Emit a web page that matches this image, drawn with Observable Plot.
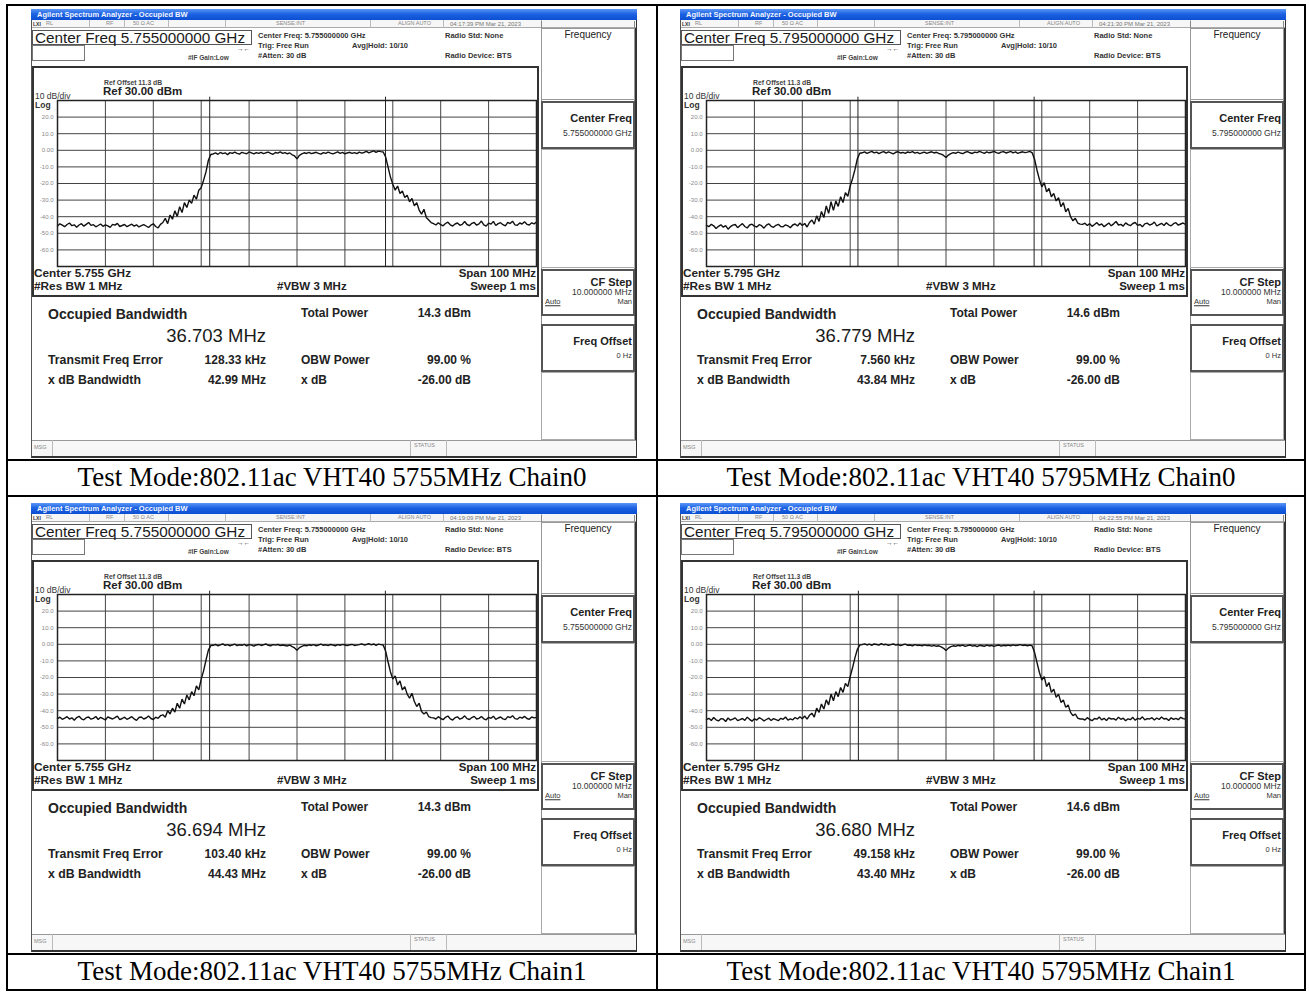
<!DOCTYPE html>
<html><head><meta charset="utf-8">
<script src="https://cdn.jsdelivr.net/npm/d3@7"></script>
<script src="https://cdn.jsdelivr.net/npm/@observablehq/plot@0.6"></script>
<style>
body{margin:0;background:#fff;}
#root{position:relative;width:1309px;height:992px;overflow:hidden;background:#fff;font-family:"Liberation Sans",Arial,sans-serif;}
.t{position:absolute;white-space:nowrap;line-height:1;}
.box{position:absolute;box-sizing:border-box;}
</style></head><body><div id="root"></div>
<script>
// ---------- data ----------
const captions = [
  "Test Mode:802.11ac VHT40 5755MHz Chain0",
  "Test Mode:802.11ac VHT40 5795MHz Chain0",
  "Test Mode:802.11ac VHT40 5755MHz Chain1",
  "Test Mode:802.11ac VHT40 5795MHz Chain1"
];
const centerFreqGHz = ["5.755000000","5.795000000","5.755000000","5.795000000"];
const centerShort = ["5.755","5.795","5.755","5.795"];
const timestamps = ["04:17:39 PM Mar 21, 2023","04:21:30 PM Mar 21, 2023","04:19:09 PM Mar 21, 2023","04:22:55 PM Mar 21, 2023"];
const obwMHz = [36.703, 36.779, 36.694, 36.680];
const totalPowerDbm = ["14.3 dBm","14.6 dBm","14.3 dBm","14.6 dBm"];
const freqErrorKHz = [128.33, 7.560, 103.40, 49.158];
const freqErrorLabels = ["128.33 kHz","7.560 kHz","103.40 kHz","49.158 kHz"];
const xdbBandwidth = ["42.99 MHz","43.84 MHz","44.43 MHz","43.40 MHz"];
const obwPower = "99.00 %";
const xdbValue = "-26.00 dB";
const spanMHz = 100;
const refLevel = 30, dbPerDiv = 10, divisions = 10;
const yTickValues = [20,10,0,-10,-20,-30,-40,-50,-60];
const yTickLabels = ["20.0","10.0","0.00","-10.0","-20.0","-30.0","-40.0","-50.0","-60.0"];
const xGridMHz = [-40,-30,-20,-10,0,10,20,30,40];

const trace0 = [
 -45.6,-44.3,-45.1,-46.0,-44.7,-43.8,-45.4,-44.9,-46.3,-45.0,
 -44.2,-45.7,-44.6,-43.5,-45.2,-44.8,-46.1,-45.3,-44.4,-45.8,
 -44.9,-45.5,-46.4,-44.6,-45.1,-44.0,-45.9,-45.3,-44.7,-46.0,
 -45.2,-44.5,-45.7,-44.9,-46.2,-45.4,-44.8,-45.6,-46.5,-45.1,
 -44.3,-45.9,-46.8,-44.6,
 -43.5,-41.0,-44.2,-39.0,-41.5,-36.5,-39.8,-34.0,-37.5,-31.5,-34.5,-30.0,-32.0,-27.0,-29.5,-24.0,-22.5,-18.0,-13.0,-6.0,-2.5,
 -2.2,-1.6,-2.4,-1.3,-2.0,-1.5,-2.6,-1.4,-1.9,-1.1,
 -1.8,-2.3,-1.2,-1.7,-2.1,-1.0,-1.6,-2.2,-1.4,-1.9,
 -1.2,-2.0,-1.5,-1.1,-1.8,-2.4,-1.3,-1.7,-1.0,-1.9,
 -1.4,-2.1,-1.6,-2.7,-3.4,
 -5.2,
 -3.0,-2.2,-1.5,-1.9,-1.3,
 -2.0,-1.6,-1.2,-1.8,-2.3,-1.4,-1.9,-1.1,-1.7,-2.2,
 -1.5,-1.0,-1.8,-1.3,-2.1,-1.6,-1.2,-1.9,-1.4,-2.0,
 -1.1,-1.7,-1.3,-0.6,-1.5,-0.9,-0.3,-1.2,-0.5,-0.8,
 -1.0,-4.0,-10.0,-16.0,-20.5,-24.0,-21.5,-26.0,-24.5,-28.5,-27.0,-31.0,-29.0,-33.5,-31.5,-36.0,-38.5,-35.5,-40.5,-42.0,-43.5,
 -44.2,-45.0,-43.6,-44.8,-45.5,-44.1,-43.3,-44.9,-45.6,-44.4,
 -43.8,-45.2,-44.6,-42.9,-44.7,-45.4,-44.0,-43.5,-45.1,-44.3,
 -42.6,-44.9,-45.7,-43.9,-44.5,-42.8,-45.3,-44.2,-43.6,-44.8,
 -45.5,-43.4,-44.1,-42.7,-44.9,-45.2,-43.8,-44.4,-43.1,-44.6,
 -45.0,-43.7,-44.3,-43.2
];
const trace1 = [
 -45.2,-46.0,-44.6,-45.5,-47.1,-45.8,-44.9,-46.3,-45.4,-47.5,
 -46.0,-45.1,-44.7,-46.6,-45.3,-44.2,-45.9,-46.8,-45.0,-44.5,
 -45.7,-46.2,-44.8,-45.4,-46.9,-45.1,-44.3,-45.8,-46.4,-45.2,
 -44.6,-45.9,-46.1,-44.9,-45.5,-46.7,-45.0,-44.4,-45.6,-43.8,
 -45.3,-44.1,-46.2,-43.5,
 -42.0,-44.5,-39.5,-42.8,-36.8,-40.5,-33.5,-38.0,-31.0,-36.2,-30.5,-33.8,-28.0,-31.5,-25.5,-27.8,-21.5,-17.0,-11.5,-5.0,-1.8,
 -1.5,-0.9,-1.8,-1.2,-0.7,-1.6,-1.1,-2.0,-1.3,-0.8,
 -1.7,-1.0,-1.5,-2.1,-1.2,-0.9,-1.6,-1.3,-1.9,-1.0,
 -1.4,-0.8,-1.7,-1.2,-2.0,-1.5,-1.1,-1.8,-1.3,-0.9,
 -1.6,-1.2,-1.9,-2.3,-3.1,
 -4.3,
 -2.9,-2.0,-1.4,-1.8,-1.1,
 -1.6,-2.0,-1.2,-0.8,-1.5,-1.9,-1.1,-1.4,-0.7,-1.3,
 -1.8,-1.0,-1.5,-1.2,-0.6,-1.4,-1.9,-1.1,-0.8,-1.6,
 -1.2,-0.7,-1.5,-1.0,-1.8,-1.3,-0.9,-1.4,-1.1,-0.6,
 -1.5,-5.5,-12.0,-17.5,-22.0,-19.5,-25.0,-23.0,-28.0,-26.0,-30.5,-28.5,-34.0,-31.5,-37.0,-35.0,-40.0,-42.5,-41.0,-43.8,-44.5,
 -44.6,-43.9,-45.3,-44.2,-45.8,-44.7,-43.6,-45.1,-44.4,-46.0,
 -44.9,-43.8,-45.5,-44.3,-42.9,-45.0,-44.6,-45.7,-43.7,-44.8,
 -45.4,-44.1,-43.5,-45.2,-44.7,-46.1,-44.3,-43.9,-45.0,-44.5,
 -43.2,-45.6,-44.8,-44.0,-45.3,-43.7,-44.9,-45.5,-44.2,-43.6,
 -45.1,-44.4,-43.8,-44.7
];
const trace2 = [
 -44.8,-43.9,-45.2,-44.5,-43.6,-45.0,-44.3,-45.7,-44.1,-43.4,
 -44.9,-45.5,-44.2,-43.8,-45.1,-44.6,-43.5,-45.3,-44.0,-44.8,
 -45.6,-43.7,-44.4,-45.0,-44.2,-43.3,-45.4,-44.7,-43.9,-45.2,
 -44.5,-43.6,-44.9,-45.8,-44.1,-43.8,-45.0,-44.4,-43.2,-44.7,
 -45.3,-43.9,-44.6,-43.0,
 -42.5,-44.0,-40.0,-42.0,-38.5,-40.8,-35.5,-38.5,-33.0,-36.0,-30.5,-33.5,-28.5,-31.0,-25.0,-27.5,-21.0,-16.0,-9.5,-3.5,-0.8,
 -0.6,-0.1,-0.9,-0.3,0.2,-0.7,-0.2,-1.0,-0.4,0.1,
 -0.8,-0.3,-0.6,0.0,-0.9,-0.2,-0.5,-1.1,-0.4,-0.1,
 -0.7,-0.3,0.2,-0.6,-0.9,-0.2,-0.5,-0.1,-0.8,-0.4,
 -0.7,-1.0,-0.5,-1.4,-2.2,
 -3.6,
 -2.0,-1.2,-0.6,-0.9,-0.3,
 -0.7,-0.2,-0.9,-0.4,0.1,-0.6,-0.3,-0.8,-0.1,-0.5,
 -0.9,-0.2,-0.6,0.0,-0.4,-0.8,-0.3,-0.1,-0.7,-0.5,
 -0.2,0.3,-0.4,-0.1,0.4,-0.3,0.2,-0.6,0.1,-0.2,
 -0.5,-4.0,-10.5,-16.5,-21.0,-19.0,-24.5,-22.0,-27.5,-25.5,-30.0,-32.5,-29.5,-34.5,-37.5,-35.5,-40.5,-42.0,-40.8,-43.5,-44.2,
 -44.3,-45.0,-43.6,-44.7,-45.4,-44.0,-43.2,-44.9,-45.6,-44.2,
 -43.7,-45.1,-44.5,-43.1,-44.8,-45.3,-44.1,-43.4,-45.0,-44.6,
 -43.5,-44.9,-45.5,-44.0,-44.6,-43.3,-45.2,-44.4,-43.8,-44.9,
 -45.4,-43.6,-44.2,-43.0,-44.8,-45.1,-43.9,-44.5,-43.4,-44.7,
 -45.2,-43.8,-44.3,-44.0
];
const trace3 = [
 -45.3,-44.6,-45.9,-44.1,-45.5,-46.2,-44.8,-45.0,-46.5,-44.4,
 -45.7,-45.1,-44.3,-46.0,-45.4,-44.7,-45.8,-43.9,-45.2,-46.3,
 -44.9,-45.6,-44.2,-45.0,-46.1,-45.3,-44.5,-45.9,-44.8,-45.4,
 -46.0,-44.6,-45.2,-43.8,-45.7,-44.9,-45.5,-44.1,-45.0,-43.6,
 -44.8,-43.2,-45.1,-42.8,
 -41.5,-43.8,-38.5,-41.0,-36.0,-39.0,-33.5,-36.5,-30.0,-34.0,-28.5,-31.5,-26.0,-29.0,-23.5,-25.5,-19.5,-14.0,-8.0,-3.0,-0.5,
 -0.2,0.3,-0.4,0.1,-0.6,0.2,-0.1,-0.5,0.4,-0.3,
 0.0,-0.7,-0.2,0.2,-0.5,-0.1,-0.8,-0.3,0.1,-0.6,
 -0.4,-0.9,-0.2,-0.7,-0.5,-1.0,-0.3,-0.8,-0.6,-1.1,
 -0.7,-1.2,-0.9,-1.6,-2.4,
 -3.8,
 -2.3,-1.4,-0.9,-1.2,-0.6,
 -1.0,-0.5,-1.3,-0.8,-0.4,-1.1,-0.7,-1.4,-0.6,-0.9,
 -1.2,-0.5,-1.0,-0.7,-1.3,-0.8,-0.4,-1.1,-0.6,-0.9,
 -0.5,-1.0,-0.3,-0.8,-0.6,-0.2,-0.7,-0.4,-0.9,-0.5,
 -1.0,-5.0,-11.0,-17.0,-21.5,-19.5,-25.5,-23.0,-29.0,-27.0,-32.0,-30.0,-35.0,-33.5,-38.0,-36.5,-41.0,-43.0,-42.0,-44.5,-45.0,
 -44.9,-45.6,-44.2,-45.3,-46.0,-44.7,-45.1,-43.8,-45.5,-44.6,
 -45.9,-44.3,-45.0,-44.8,-45.7,-43.9,-45.2,-44.5,-46.1,-44.9,
 -45.4,-44.0,-45.8,-44.6,-45.1,-43.7,-45.5,-44.8,-45.0,-44.2,
 -45.6,-44.4,-45.3,-43.8,-45.0,-44.7,-45.9,-44.3,-45.2,-44.6,
 -45.4,-44.0,-44.8,-45.1
];
const traces = [trace0, trace1, trace2, trace3];

// ---------- helpers ----------
const root = document.getElementById("root");
const SANS = '"Liberation Sans", Arial, sans-serif';
function box(p, x1, y1, x2, y2, css = {}) {
  const d = document.createElement("div");
  d.className = "box";
  Object.assign(d.style, {left: x1 + "px", top: y1 + "px", width: (x2 - x1) + "px", height: (y2 - y1) + "px"}, css);
  p.appendChild(d);
  return d;
}
function txt(p, x, y, s, size, o = {}) {
  const d = document.createElement("div");
  d.className = "t";
  d.textContent = s;
  const tx = o.a === "end" ? "-100%" : o.a === "middle" ? "-50%" : "0";
  Object.assign(d.style, {
    left: x + "px", top: y + "px", fontSize: size + "px",
    fontWeight: o.w || "normal", color: o.c || "#222",
    transform: `translate(${tx},-50%)`, fontFamily: o.f || SANS,
    fontStyle: o.i ? "italic" : "normal",
    textDecoration: o.u ? "underline" : "none"
  });
  p.appendChild(d);
  return d;
}

// ---------- table lines ----------
const L = "#000";
[[4],[459],[495],[953],[989]].forEach(([y]) => box(root, 6, y, 1306, y + 2, {background: L}));
[[6],[656],[1304]].forEach(([x]) => box(root, x, 4, x + 2, 991, {background: L}));

// ---------- panels ----------
const offsets = [[0, 0], [649, 0], [0, 494], [649, 494]];

offsets.forEach(([ox, oy], i) => {
  const P = document.createElement("div");
  Object.assign(P.style, {position: "absolute", left: ox + "px", top: oy + "px", width: "660px", height: "500px"});
  root.appendChild(P);

  // screen
  box(P, 31, 9, 637, 458, {background: "#fff", border: "1px solid #555", borderRight: "2px solid #333", borderBottom: "2px solid #333"});
  // title bar
  box(P, 31, 9, 637, 20, {background: "linear-gradient(#5a96f6, #1d62e3 45%, #0c4fd2)"});
  txt(P, 37, 14.5, "Agilent Spectrum Analyzer - Occupied BW", 7.5, {c: "#f2f6ff", w: "bold"});
  // status row
  box(P, 32, 20, 636, 28, {background: "#f6f6f6", borderBottom: "1px solid #aaa"});
  [89, 124, 168, 225, 370, 443, 541].forEach(x => box(P, x, 20, x + 1, 28, {background: "#bbb"}));
  txt(P, 33, 24, "LXI", 5, {w: "bold", c: "#333"});
  txt(P, 46, 24, "RL", 5.5, {c: "#888"});
  txt(P, 106, 24, "RF", 5.5, {c: "#888"});
  txt(P, 133, 24, "50 Ω   AC", 5.5, {c: "#888"});
  txt(P, 276, 24, "SENSE:INT", 5.5, {c: "#888"});
  txt(P, 398, 24, "ALIGN AUTO", 5.5, {c: "#888"});
  txt(P, 450, 24, timestamps[i], 6, {c: "#777"});

  // header boxes
  box(P, 32, 30, 252, 45, {border: "1px solid #555"});
  txt(P, 35, 38, "Center Freq " + centerFreqGHz[i] + " GHz", 15.3, {c: "#1a1a1a"});
  box(P, 32, 45, 85, 61, {border: "1px solid #777"});
  txt(P, 237, 49, "→←", 6.5, {c: "#333"});
  txt(P, 188, 58, "#IF Gain:Low", 6.5, {w: "bold", c: "#444"});
  txt(P, 258, 36, "Center Freq: " + centerFreqGHz[i] + " GHz", 7.5, {w: "bold", c: "#333"});
  txt(P, 258, 46, "Trig: Free Run", 7.5, {w: "bold", c: "#333"});
  txt(P, 258, 56, "#Atten: 30 dB", 7.5, {w: "bold", c: "#333"});
  txt(P, 352, 46, "Avg|Hold: 10/10", 7.5, {w: "bold", c: "#333"});
  txt(P, 445, 36, "Radio Std: None", 7.5, {w: "bold", c: "#333"});
  txt(P, 445, 56, "Radio Device: BTS", 7.5, {w: "bold", c: "#333"});

  // display frame
  box(P, 32, 66, 539, 297, {border: "2px solid #333"});
  txt(P, 104, 83, "Ref Offset 11.3 dB", 6.8, {w: "bold", c: "#444"});
  txt(P, 103, 91.5, "Ref 30.00 dBm", 11.5, {w: "bold", c: "#222"});
  txt(P, 35, 96, "10 dB/div", 8.5, {c: "#333"});
  txt(P, 35, 104.5, "Log", 8.5, {w: "bold", c: "#333"});
  txt(P, 34, 274, "Center  " + centerShort[i] + " GHz", 11.8, {w: "bold", c: "#222"});
  txt(P, 34, 287, "#Res BW  1 MHz", 11.8, {w: "bold", c: "#222"});
  txt(P, 277, 287, "#VBW  3 MHz", 11.5, {w: "bold", c: "#222"});
  txt(P, 536, 274, "Span 100 MHz", 11.5, {w: "bold", c: "#222", a: "end"});
  txt(P, 536, 287, "Sweep  1 ms", 11.5, {w: "bold", c: "#222", a: "end"});

  // spectrum plot
  const tr = traces[i];
  const pts = tr.map((v, k) => ({f: -spanMHz / 2 + k * spanMHz / (tr.length - 1), db: v}));
  const c = freqErrorKHz[i] / 1000;
  const markers = [c - obwMHz[i] / 2, c + obwMHz[i] / 2];
  const yMin = refLevel - dbPerDiv * divisions;
  const chart = Plot.plot({
    width: 505, height: 173,
    marginLeft: 24, marginRight: 2, marginTop: 4, marginBottom: 3,
    x: {domain: [-spanMHz / 2, spanMHz / 2], axis: null},
    y: {domain: [yMin, refLevel]},
    style: {background: "transparent", fontFamily: SANS, fontSize: "6px", color: "#888", overflow: "visible"},
    marks: [
      Plot.ruleX(xGridMHz, {stroke: "#444", strokeWidth: 1}),
      Plot.ruleY(yTickValues, {stroke: "#444", strokeWidth: 1}),
      Plot.ruleX(markers, {y1: yMin, y2: refLevel + 2, stroke: "#222", strokeWidth: 1}),
      Plot.line(pts, {x: "f", y: "db", stroke: "#111", strokeWidth: 1.4, strokeLinejoin: "miter"}),
      Plot.axisY(yTickValues, {tickSize: 0, tickPadding: 4, label: null, fill: "#888",
        tickFormat: d => yTickLabels[yTickValues.indexOf(d)]}),
      Plot.frame({stroke: "#222", strokeWidth: 1.5})
    ]
  });
  Object.assign(chart.style, {position: "absolute", left: "33px", top: "96px", maxWidth: "none"});
  P.appendChild(chart);

  // results
  txt(P, 48, 314, "Occupied Bandwidth", 14, {w: "bold", c: "#222"});
  txt(P, 266, 336, obwMHz[i].toFixed(3) + " MHz", 18.5, {c: "#1a1a1a", a: "end"});
  txt(P, 48, 360, "Transmit Freq Error", 12.3, {w: "bold", c: "#222"});
  txt(P, 266, 360, freqErrorLabels[i], 12, {w: "bold", c: "#222", a: "end"});
  txt(P, 48, 380, "x dB Bandwidth", 12.3, {w: "bold", c: "#222"});
  txt(P, 266, 380, xdbBandwidth[i], 12, {w: "bold", c: "#222", a: "end"});
  txt(P, 301, 313, "Total Power", 12, {w: "bold", c: "#222"});
  txt(P, 471, 313, totalPowerDbm[i], 12, {w: "bold", c: "#222", a: "end"});
  txt(P, 301, 360, "OBW Power", 12, {w: "bold", c: "#222"});
  txt(P, 471, 360, obwPower, 12, {w: "bold", c: "#222", a: "end"});
  txt(P, 301, 380, "x dB", 12, {w: "bold", c: "#222"});
  txt(P, 471, 380, xdbValue, 12, {w: "bold", c: "#222", a: "end"});

  // right softkey panel
  box(P, 541, 21, 635, 440, {borderLeft: "1px solid #888", borderRight: "1px solid #888"});
  box(P, 541, 28, 635, 100, {border: "1px solid #999"});
  txt(P, 588, 35, "Frequency", 10, {c: "#222", a: "middle"});
  box(P, 541, 101, 635, 149, {border: "2px solid #555"});
  txt(P, 632, 118, "Center Freq", 11, {w: "bold", c: "#222", a: "end"});
  txt(P, 632, 133, centerFreqGHz[i] + " GHz", 8.5, {c: "#333", a: "end"});
  box(P, 541, 149, 635, 268, {border: "1px solid #aaa"});
  box(P, 541, 269, 635, 316, {border: "2px solid #555"});
  txt(P, 632, 282, "CF Step", 11, {w: "bold", c: "#222", a: "end"});
  txt(P, 632, 292, "10.000000 MHz", 8.5, {c: "#333", a: "end"});
  txt(P, 545, 302, "Auto", 7.5, {c: "#333", u: true});
  txt(P, 632, 302, "Man", 7.5, {c: "#333", a: "end"});
  box(P, 541, 324, 635, 372, {border: "2px solid #555"});
  txt(P, 632, 341, "Freq Offset", 11, {w: "bold", c: "#222", a: "end"});
  txt(P, 632, 356, "0 Hz", 7.5, {c: "#333", a: "end"});
  box(P, 541, 372, 635, 440, {border: "1px solid #aaa"});

  // bottom status bar
  box(P, 32, 440, 636, 456, {background: "#f7f7f7", borderTop: "1px solid #999"});
  box(P, 52, 440, 53, 456, {background: "#bbb"});
  box(P, 410, 440, 411, 456, {background: "#bbb"});
  box(P, 446, 440, 447, 456, {background: "#bbb"});
  txt(P, 34, 448, "MSG", 5.5, {c: "#888"});
  txt(P, 414, 446, "STATUS", 5.5, {c: "#888"});

  // caption
  txt(P, 332, 477, captions[i], 27, {f: '"Liberation Serif", "Times New Roman", serif', c: "#000", a: "middle"});
});
</script></body></html>
